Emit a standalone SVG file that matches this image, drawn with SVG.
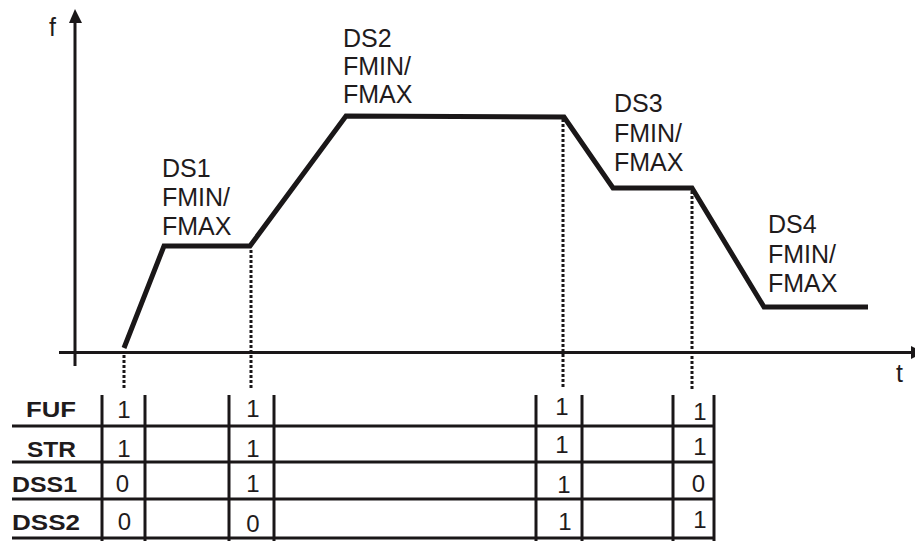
<svg xmlns="http://www.w3.org/2000/svg" width="915" height="541" viewBox="0 0 915 541">
<style>
.ax{stroke:#1a1718;stroke-width:3;fill:none}
.curve{stroke:#1a1718;stroke-width:5;fill:none;stroke-linejoin:miter}
.dot{stroke:#1a1718;stroke-width:3;stroke-dasharray:3 2;fill:none}
.grid{stroke:#1a1718;stroke-width:3;fill:none}
.lbl{font-family:"Liberation Sans",Arial,sans-serif;font-size:25px;fill:#1f1b1c}
.hdr{font-family:"Liberation Sans",Arial,sans-serif;font-size:22px;font-weight:bold;fill:#1f1b1c}
.val{font-family:"Liberation Sans",Arial,sans-serif;font-size:24px;fill:#1f1b1c;text-anchor:middle}
</style>
<rect width="915" height="541" fill="#fff"/>
<g id="axes">
<line class="ax" x1="75" y1="366" x2="75" y2="22"/>
<polygon points="69,23 75,9 82,23" fill="#1a1718"/>
<line class="ax" x1="59" y1="352.5" x2="912" y2="352.5"/>
<polygon points="911,346 924,352.5 911,359" fill="#1a1718"/>
<text class="lbl" x="49" y="36">f</text>
<text class="lbl" x="896" y="382">t</text>
</g>
<g id="connectors">
<polyline class="curve" points="124,348 164,246 250,246 346,116 564,117 613,188 692,188 764,307 868,307"/>
<line class="dot" x1="124" y1="355" x2="124" y2="389"/>
<line class="dot" x1="251" y1="250" x2="251" y2="389"/>
<line class="dot" x1="563" y1="119" x2="563" y2="389"/>
<line class="dot" x1="692" y1="191" x2="692" y2="389"/>
</g>
<g id="ds1">
<text class="lbl" x="162" y="177">DS1</text>
<text class="lbl" x="162" y="206">FMIN/</text>
<text class="lbl" x="162" y="235">FMAX</text>
</g>
<g id="ds2">
<text class="lbl" x="343" y="47">DS2</text>
<text class="lbl" x="343" y="75">FMIN/</text>
<text class="lbl" x="343" y="103">FMAX</text>
</g>
<g id="ds3">
<text class="lbl" x="614" y="112">DS3</text>
<text class="lbl" x="614" y="142">FMIN/</text>
<text class="lbl" x="614" y="171">FMAX</text>
</g>
<g id="ds4">
<text class="lbl" x="768" y="233">DS4</text>
<text class="lbl" x="768" y="263">FMIN/</text>
<text class="lbl" x="768" y="292">FMAX</text>
</g>
<g id="table">
<g class="grid">
<line x1="12" y1="426" x2="715" y2="426"/>
<line x1="12" y1="462" x2="715" y2="462"/>
<line x1="12" y1="499" x2="715" y2="499"/>
<line x1="12" y1="538" x2="715" y2="538"/>
<line x1="102" y1="395" x2="102" y2="541"/>
<line x1="145" y1="395" x2="145" y2="541"/>
<line x1="229" y1="395" x2="229" y2="541"/>
<line x1="274" y1="395" x2="274" y2="541"/>
<line x1="536" y1="395" x2="536" y2="541"/>
<line x1="582" y1="395" x2="582" y2="541"/>
<line x1="673" y1="395" x2="673" y2="541"/>
<line x1="714" y1="395" x2="714" y2="541"/>
</g>
<text class="hdr" x="26" y="417" textLength="50" lengthAdjust="spacingAndGlyphs">FUF</text>
<text class="hdr" x="27" y="457" textLength="49" lengthAdjust="spacingAndGlyphs">STR</text>
<text class="hdr" x="12" y="492" textLength="65" lengthAdjust="spacingAndGlyphs">DSS1</text>
<text class="hdr" x="12" y="530" textLength="68" lengthAdjust="spacingAndGlyphs">DSS2</text>
<text class="val" x="124" y="418">1</text>
<text class="val" x="124" y="457">1</text>
<text class="val" x="122.5" y="492">0</text>
<text class="val" x="124.5" y="530">0</text>
<text class="val" x="253" y="417">1</text>
<text class="val" x="253" y="457">1</text>
<text class="val" x="253" y="492">1</text>
<text class="val" x="253" y="532">0</text>
<text class="val" x="562" y="415">1</text>
<text class="val" x="562" y="453">1</text>
<text class="val" x="564" y="493">1</text>
<text class="val" x="565" y="530">1</text>
<text class="val" x="700" y="420">1</text>
<text class="val" x="700" y="455">1</text>
<text class="val" x="698.5" y="492">0</text>
<text class="val" x="700" y="528">1</text>
</g>
</svg>
